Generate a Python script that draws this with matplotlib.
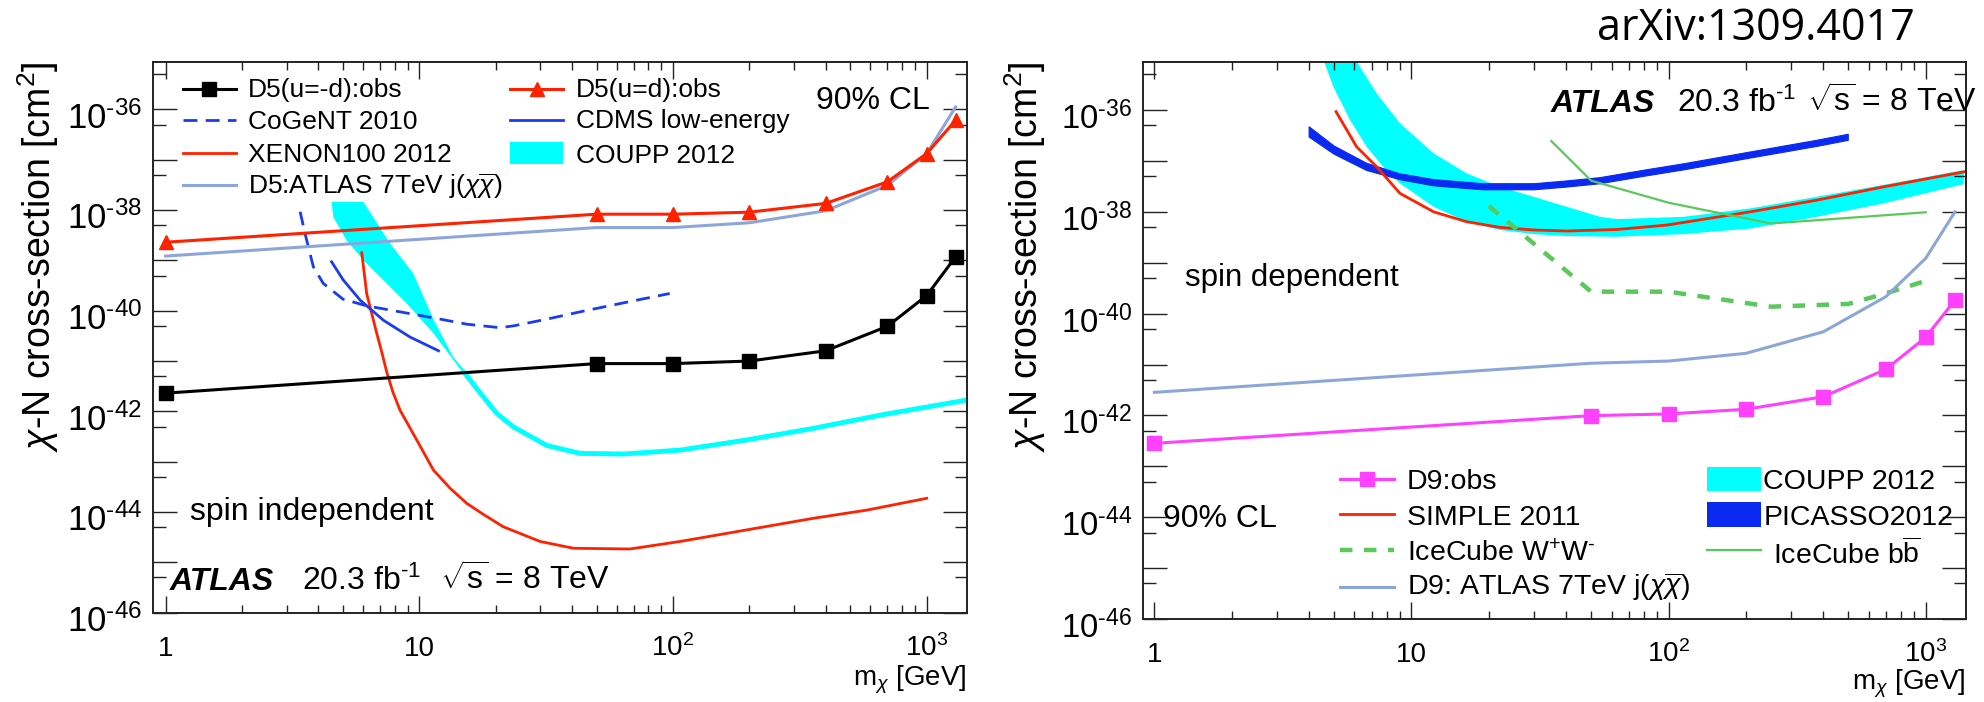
import numpy as np
import matplotlib
matplotlib.use("Agg")
import matplotlib.pyplot as plt
from matplotlib.lines import Line2D
from matplotlib.patches import Rectangle
from matplotlib.ticker import FixedLocator, NullFormatter
from matplotlib.transforms import offset_copy

# ---------------------------------------------------------------- data
# Spin-independent limits (left panel), masses in GeV, cross-sections in cm^2
d5_mass = [1, 50, 100, 200, 400, 700, 1000, 1300]
d5_umd_obs = [2.3e-42, 8.9e-42, 8.9e-42, 1.0e-41, 1.6e-41, 4.9e-41, 2.0e-40, 1.18e-39]
d5_ud_obs = [2.3e-39, 8.3e-39, 8.3e-39, 9.1e-39, 1.36e-38, 3.65e-38, 1.33e-37, 6.1e-37]
d5_atlas7 = [1.22e-39, 4.5e-39, 4.5e-39, 5.6e-39, 9.7e-39, 3.1e-38, 1.33e-37, 1.12e-36]

cogent_mass = [3.39, 3.54, 3.82, 4.18, 5.0, 6.2, 8.4, 11.4, 15.4, 20.8, 23.5, 31.8, 43, 58, 97]
cogent_xs = [9.3e-39, 3.5e-39, 7.5e-40, 3.5e-40, 1.7e-40, 1.25e-40, 9.5e-41, 7.2e-41,
             5.4e-41, 4.6e-41, 5.0e-41, 6.8e-41, 9.5e-41, 1.3e-40, 2.2e-40]

cdms_mass = [4.51, 5.01, 5.84, 7.21, 9.19, 11.9]
cdms_xs = [9.4e-40, 4.1e-40, 1.63e-40, 6.5e-41, 3.0e-41, 1.6e-41]

xenon_mass = [5.93, 6.2, 6.49, 6.79, 7.11, 7.44, 7.87, 8.39, 9.77, 11.37, 13.2, 15.37, 17.8,
              21.4, 29.9, 40.5, 67.7, 107, 195, 358, 581, 1000]
xenon_xs = [1.42e-39, 2.21e-40, 8.85e-41, 3.59e-41, 1.51e-41, 6.03e-42, 2.41e-42, 1.06e-42,
            2.69e-43, 6.8e-44, 2.99e-44, 1.49e-44, 9.1e-45, 5.1e-45, 2.6e-45, 1.9e-45,
            1.84e-45, 2.6e-45, 4.4e-45, 7.5e-45, 1.09e-44, 1.87e-44]

coupp_si_hi_mass = [4.51, 6.02, 7.66, 9.47, 11.4, 13.6, 15.4]
coupp_si_hi = [1.46e-38, 1.46e-38, 2.18e-39, 5.5e-40, 6.5e-41, 1.21e-41, 5.7e-42]
coupp_si_lo_mass = [4.51, 4.58, 5.17, 6.02, 7.21, 8.92, 11.4, 14.9]
coupp_si_lo = [1.46e-38, 7.3e-39, 2.5e-39, 1.01e-39, 4.1e-40, 1.4e-40, 3.5e-41, 5.7e-42]
coupp_si_mass = [14.9, 17.4, 20.2, 23.5, 31.8, 43, 63.7, 107, 195, 358, 656, 1440]
coupp_si_xs = [6.3e-42, 2.3e-42, 9.1e-43, 4.9e-43, 2.1e-43, 1.46e-43, 1.42e-43, 1.7e-43,
               2.7e-43, 4.6e-43, 8.4e-43, 1.68e-42]

# Spin-dependent limits (right panel)
d9_mass = [1, 50, 100, 200, 400, 700, 1000, 1300]
d9_obs = [2.83e-43, 9.9e-43, 1.07e-42, 1.32e-42, 2.33e-42, 8.05e-42, 3.42e-41, 1.85e-40]
d9_atlas7 = [2.84e-42, 1.06e-41, 1.17e-41, 1.66e-41, 4.4e-41, 2.15e-40, 1.22e-39, 1.0e-38]

simple_mass = [5.09, 6.12, 7.32, 9.02, 12.2, 16.4, 22.1, 29.8, 40.3, 63, 98.6, 208, 378, 687, 1406]
simple_xs = [9.3e-37, 1.9e-37, 7.7e-38, 2.31e-38, 1.0e-38, 6.4e-39, 4.95e-39, 4.4e-39,
             4.2e-39, 4.5e-39, 5.5e-39, 1.0e-38, 1.7e-38, 3.1e-38, 6.1e-38]

icww_mass = [20, 50, 100, 250, 500, 700, 1000]
icww_xs = [1.3e-38, 2.7e-40, 2.7e-40, 1.37e-40, 1.55e-40, 2.5e-40, 4.4e-40]

icbb_mass = [35, 50, 100, 250, 1000]
icbb_xs = [2.46e-37, 4.1e-38, 1.51e-38, 5.9e-39, 9.8e-39]

picasso_mass = [4, 5, 6.7, 9, 12.2, 19, 30, 40, 54, 80, 115, 208, 378, 500]
picasso_hi = [4.7e-37, 1.97e-37, 9.0e-38, 5.6e-38, 4.3e-38, 3.57e-38, 3.57e-38, 4.04e-38,
              4.69e-38, 6.56e-38, 8.83e-38, 1.5e-37, 2.55e-37, 3.34e-37]
picasso_lo = [2.95e-37, 1.36e-37, 6.5e-38, 4.3e-38, 3.25e-38, 2.71e-38, 2.71e-38, 3.06e-38,
              3.56e-38, 4.98e-38, 6.7e-38, 1.14e-37, 1.93e-37, 2.54e-37]

coupp_sd_hi_mass = [6.12, 7.32, 9.02, 12.2, 16.4, 22.1, 29.8, 40.1, 54, 63, 115, 208, 378, 687, 1406]
coupp_sd_hi = [9.0e-36, 2.13e-36, 5.5e-37, 1.41e-37, 5.7e-38, 3.1e-38, 1.98e-38, 1.26e-38,
               8.0e-39, 7.2e-39, 8.0e-39, 1.17e-38, 1.98e-38, 3.4e-38, 6.6e-38]
coupp_sd_lo_mass = [4.57, 4.97, 5.77, 6.70, 7.77, 9.02, 12.2, 16.4, 22.1, 29.8, 40.1, 63,
                    115, 208, 378, 687, 1406]
coupp_sd_lo = [9.0e-36, 2.87e-36, 6.4e-37, 1.9e-37, 7.7e-38, 3.63e-38, 1.26e-38, 6.4e-39,
               4.4e-39, 3.66e-39, 3.34e-39, 3.24e-39, 3.66e-39, 4.7e-39, 8.0e-39, 1.47e-38, 3.5e-38]

x_tick_values = [1, 10, 100, 1000]
x_tick_texts = ["1", "10", r"$10^{2}$", r"$10^{3}$"]
y_label_exponents = [-46, -44, -42, -40, -38, -36]

# ---------------------------------------------------------------- style
W, H, DPI = 1984, 702, 100
plt.rcParams.update({
    "font.family": ["Liberation Sans", "DejaVu Sans"],
    "mathtext.fontset": "custom",
    "mathtext.rm": "Liberation Sans",
    "mathtext.it": "Liberation Sans:italic",
    "mathtext.bf": "Liberation Sans:bold",
    "mathtext.sf": "Liberation Sans",
})

CYAN = "#00ffff"
RED = "#ff2200"
BLUE = "#1a3cf0"
LBLUE = "#8da6da"
GREEN = "#5ac85a"
MAGENTA = "#ff40ff"
PBLUE = "#0a2af2"
YMIN, YMAX = 1e-46, 10 ** -35.05

fig = plt.figure(figsize=(W / DPI, H / DPI), dpi=DPI)


def px_axes(x0, y0, x1, y1):
    return fig.add_axes([x0 / W, 1 - y1 / H, (x1 - x0) / W, (y1 - y0) / H])


def ftext(x, y, s, fs, **kw):
    kw.setdefault("ha", "left")
    kw.setdefault("va", "baseline")
    return fig.text(x / W, 1 - y / H, s, fontsize=fs, **kw)


def fline(x0, x1, y, marker=None, ms=0, **kw):
    fig.add_artist(Line2D([x0 / W, x1 / W], [1 - y / H] * 2,
                          transform=fig.transFigure, **kw))
    if marker:
        fig.add_artist(Line2D([(x0 + x1) / 2 / W], [1 - y / H], marker=marker,
                              markersize=ms, linestyle="none",
                              color=kw.get("color"), transform=fig.transFigure))


def fbox(x0, y0, x1, y1, color):
    fig.add_artist(Rectangle((x0 / W, 1 - y1 / H), (x1 - x0) / W, (y1 - y0) / H,
                             transform=fig.transFigure, color=color, lw=0))


def style_axes(ax, xlim, ytick_fs, xtick_fs):
    ax.set_xscale("log")
    ax.set_yscale("log")
    ax.set_xlim(*xlim)
    ax.set_ylim(YMIN, YMAX)
    ax.xaxis.set_major_locator(FixedLocator(x_tick_values))
    ax.xaxis.set_minor_locator(FixedLocator([m * 10.0 ** k for k in range(0, 4)
                                             for m in range(2, 10)]))
    ax.yaxis.set_major_locator(FixedLocator([10.0 ** e for e in range(-47, -33)]))
    ax.yaxis.set_minor_locator(FixedLocator([5 * 10.0 ** e for e in range(-47, -33)]))
    for axis in (ax.xaxis, ax.yaxis):
        axis.set_major_formatter(NullFormatter())
        axis.set_minor_formatter(NullFormatter())
    ax.tick_params(which="both", direction="in", top=True, right=True,
                   labelleft=False, labelbottom=False, width=1.0, color="#222222")
    ax.tick_params(axis="x", which="major", length=12.2)
    ax.tick_params(axis="x", which="minor", length=6)
    ax.tick_params(axis="y", which="major", length=17)
    ax.tick_params(axis="y", which="minor", length=9)
    for sp in ax.spines.values():
        sp.set_linewidth(1.4)
        sp.set_color("#222222")
    ytr = offset_copy(ax.get_yaxis_transform(), fig=fig, x=-11, y=-19, units="dots")
    for e in y_label_exponents:
        ax.text(0, 10.0 ** e, r"$10^{\text{-}%d}$" % (-e), transform=ytr,
                ha="right", va="baseline", fontsize=ytick_fs, clip_on=False)
    xtr = offset_copy(ax.get_xaxis_transform(), fig=fig, x=0, y=-43, units="dots")
    for v, s in zip(x_tick_values, x_tick_texts):
        ax.text(v, 0, s, transform=xtr, ha="center", va="baseline",
                fontsize=xtick_fs, clip_on=False)


# ---------------------------------------------------------------- left: spin independent
axL = px_axes(153.3, 61.7, 966.7, 612.6)
style_axes(axL, (0.894, 1438), 25, 20)

axL.fill(list(coupp_si_hi_mass) + coupp_si_lo_mass[::-1],
         list(coupp_si_hi) + coupp_si_lo[::-1], color=CYAN, lw=0, zorder=1)
axL.plot(coupp_si_mass, coupp_si_xs, color=CYAN, lw=3.5, zorder=1,
         solid_capstyle="butt")
axL.plot(xenon_mass, xenon_xs, color=RED, lw=2.0, zorder=2)
axL.plot(cdms_mass, cdms_xs, color=BLUE, lw=2.0, zorder=2)
axL.plot(cogent_mass, cogent_xs, color=BLUE, lw=2.0, dashes=(5, 3), zorder=2)
axL.plot(d5_mass, d5_atlas7, color=LBLUE, lw=2.2, zorder=3)
axL.plot(d5_mass, d5_ud_obs, color=RED, lw=2.2, marker="^", ms=10, zorder=4)
axL.plot(d5_mass, d5_umd_obs, color="black", lw=2.2, marker="s", ms=9.5, zorder=4)

# legend (two columns)
LFS = 19
fline(182.7, 236, 89.3, color="black", lw=2.2, marker="s", ms=9.5)
ftext(248.3, 96.7, "D5(u=-d):obs", LFS)
fline(182.7, 236, 120, color=BLUE, lw=2.0, dashes=(5, 3))
ftext(248.3, 129.3, "CoGeNT 2010", LFS)
fline(182.7, 236, 153.3, color=RED, lw=2.0)
ftext(248.3, 162.3, "XENON100 2012", LFS)
fline(182.7, 236, 185, color=LBLUE, lw=2.2)
ftext(248.3, 194.3, r"D5:ATLAS 7TeV j($\chi\overline{\chi}$)", LFS)
fline(510, 563.3, 89.3, color=RED, lw=2.2, marker="^", ms=10)
ftext(575.7, 96.7, "D5(u=d):obs", LFS)
fline(510, 563.3, 120, color=BLUE, lw=2.0)
ftext(575.7, 128.3, "CDMS low-energy", LFS)
fbox(510, 141.7, 563.3, 164, CYAN)
ftext(575.7, 162.7, "COUPP 2012", LFS)

ftext(816, 109.3, "90% CL", 23)
ftext(190, 520, "spin independent", 23)
ftext(170, 590, "ATLAS", 23, fontweight="bold", fontstyle="italic")
ftext(301.7, 590, r"20.3 fb$^{\text{-}1}$", 23)
ftext(440, 590, r"$\sqrt{\mathrm{s}}$ = 8 TeV", 23)

ftext(51, 61.7, r"$\chi$-N cross-section [cm$^{2}$]", 27, rotation=90,
      rotation_mode="anchor", ha="right")
ftext(966.7, 685, r"m$_{\chi}$ [GeV]", 20, ha="right")

# ---------------------------------------------------------------- right: spin dependent
axR = px_axes(1143.3, 61.7, 1965.7, 619)
style_axes(axR, (0.906, 1431), 23.7, 20)

axR.fill(list(coupp_sd_hi_mass) + coupp_sd_lo_mass[::-1],
         list(coupp_sd_hi) + coupp_sd_lo[::-1], color=CYAN, lw=0, zorder=1)
axR.fill(list(picasso_mass) + picasso_mass[::-1],
         list(picasso_hi) + picasso_lo[::-1], color=PBLUE, lw=0.8, zorder=2)
axR.plot(simple_mass, simple_xs, color=RED, lw=2.0, zorder=3)
axR.plot(icww_mass, icww_xs, color=GREEN, lw=3.2, dashes=(2.8, 2.6), zorder=3)
axR.plot(icbb_mass, icbb_xs, color=GREEN, lw=1.6, zorder=4)
axR.plot(d9_mass, d9_atlas7, color=LBLUE, lw=2.2, zorder=4)
axR.plot(d9_mass, d9_obs, color=MAGENTA, lw=2.2, marker="s", ms=9.5, zorder=5)

RFS = 20.5
fline(1340, 1394, 479.3, color=MAGENTA, lw=2.2, marker="s", ms=9.5)
ftext(1406.7, 489, "D9:obs", RFS)
fline(1340, 1394, 514.3, color=RED, lw=2.0)
ftext(1406.7, 525, "SIMPLE 2011", RFS)
fline(1340, 1394, 550, color=GREEN, lw=3.2, dashes=(2.8, 2.6))
ftext(1406.7, 561.7, r"IceCube W$^{\text{+}}$W$^{\text{-}}$", RFS)
fline(1340, 1394, 586.7, color=LBLUE, lw=2.2)
ftext(1406.7, 595, r"D9: ATLAS 7TeV j($\chi\overline{\chi}$)", RFS)
fbox(1706.7, 467.3, 1761.3, 491, CYAN)
ftext(1763.3, 489, "COUPP 2012", RFS)
fbox(1706.7, 502.3, 1761.3, 526.7, PBLUE)
ftext(1763.3, 525, "PICASSO2012", RFS)
fline(1706.7, 1761.3, 550, color=GREEN, lw=1.6)
ftext(1773.3, 564, r"IceCube b$\overline{\mathrm{b}}$", RFS)

ftext(1162.7, 526.7, "90% CL", 23)
ftext(1185, 286, "spin dependent", 22.5)
ftext(1550.7, 111.7, "ATLAS", 23, fontweight="bold", fontstyle="italic")
ftext(1676.7, 111.7, r"20.3 fb$^{\text{-}1}$", 23)
ftext(1807, 111.7, r"$\sqrt{\mathrm{s}}$ = 8 TeV", 23)

ftext(1038.5, 61.7, r"$\chi$-N cross-section [cm$^{2}$]", 27, rotation=90,
      rotation_mode="anchor", ha="right")
ftext(1965.7, 690, r"m$_{\chi}$ [GeV]", 20, ha="right")

ftext(1597, 40, "arXiv:1309.4017", 31, family=["Open Sans", "DejaVu Sans"])

fig.savefig("out.png", dpi=DPI)
